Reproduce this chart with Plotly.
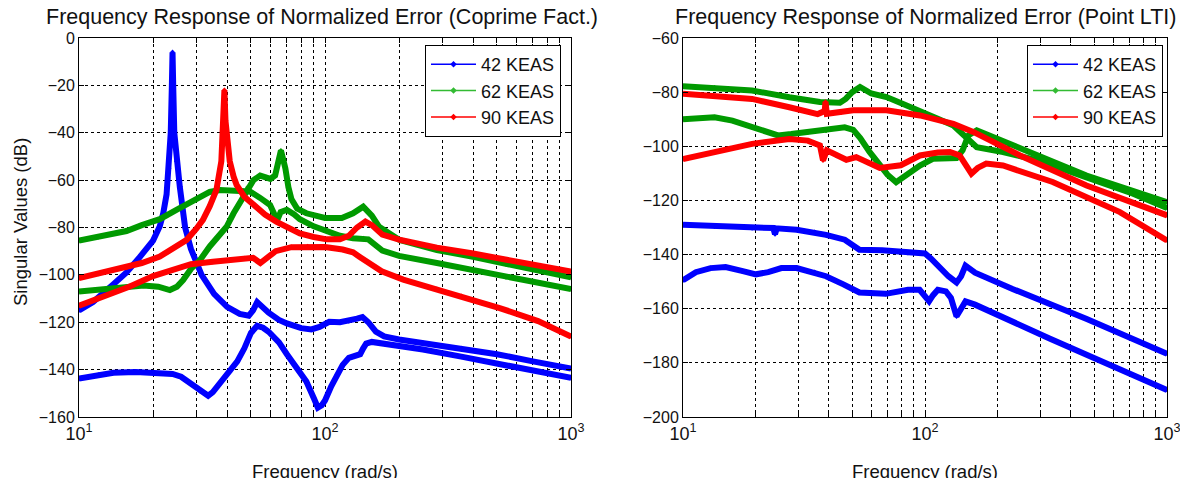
import plotly.graph_objects as go

# ---- Coprime factorization: frequency (rad/s) and singular values (dB)
cf_w_42a = [10, 11.4, 13.8, 15.6, 17.5, 18.9, 20, 21.3, 22, 22.7, 23.2, 23.6, 23.85, 24.0,
            24.15, 24.4, 24.9, 25.7, 27, 28.5, 31.5, 35.4, 40, 45, 49, 51, 53, 55, 59, 65,
            70, 80, 88, 95, 104, 115, 125, 135, 142, 150, 161, 174, 200, 250, 358, 500,
            700, 1000]
cf_db_42a = [-115, -111.5, -104, -99, -93, -89, -85.5, -79.5, -74, -66, -55, -40, -20, -6,
             -20, -40, -52, -63, -80, -89, -100, -108, -113.5, -116.5, -117.2, -115,
             -111.5, -113, -116, -119, -120.5, -122.5, -123, -122, -119.8, -120, -119.5,
             -118.5, -117.8, -120, -124, -126, -127.3, -128.7, -131, -133.5, -136.5, -139.5]

cf_w_42b = [10, 12, 13.8, 17, 20, 24, 26, 28.5, 31, 33.5, 35, 38, 41, 44, 47, 50, 53, 56,
            59, 65, 70, 77, 84, 90, 93.5, 97, 100, 106, 112, 118, 125, 135, 139, 143, 147,
            155, 174, 250, 358, 500, 700, 1000]
cf_db_42b = [-143.8, -142.2, -141.3, -141, -141.1, -141.8, -143, -146, -149, -151, -149.5,
             -145, -141, -136.5, -131, -124.5, -121.5, -122.3, -124, -128.5, -133.5, -139,
             -145, -152, -156, -155, -153, -147, -142, -138, -135, -134, -133.5, -131, -129,
             -128.3, -129, -131.5, -134.5, -137.5, -140.5, -143.5]

cf_w_62a = [10, 12, 15.6, 18, 21.3, 25, 29, 34, 37.4, 45, 49.5, 54.5, 59.8, 62, 63.6, 66,
            69.9, 75, 79, 90, 101.7, 115, 130, 143, 150, 171, 200, 285, 395, 544, 750, 1000]
cf_db_62a = [-85.5, -84, -81.5, -79, -76.5, -72.5, -69, -65, -64.2, -64.2, -64.8, -67.5,
             -70.5, -74, -77.5, -73.5, -72.5, -74.5, -76.5, -79.5, -81.8, -83.5, -84.5,
             -84.6, -85, -89.7, -92, -95, -98, -101, -103.5, -106]

cf_w_62b = [10, 13.8, 18.3, 21, 23.4, 25, 26.5, 28.5, 31, 34, 36.5, 39.8, 42.5, 45.8, 48.5,
            51.2, 54.5, 58, 60, 62.7, 64.5, 66.2, 67.5, 69, 71, 73, 77, 84, 100, 117, 130,
            143, 155, 166, 201, 285, 395, 544, 750, 1000]
cf_db_62b = [-107, -105.5, -104.5, -105, -106.4, -105, -102.2, -97.5, -93.8, -88, -84,
             -79.7, -74, -68.4, -63, -60, -58.1, -58.8, -59.5, -58, -53, -47.5, -51, -55,
             -63, -68, -72, -74, -76, -76, -74, -71.2, -75, -79.7, -85.3, -89.5, -92.3,
             -95.5, -98.5, -101]

cf_w_90a = [10, 12, 15.6, 18, 21.3, 24, 27.4, 30, 31.9, 34, 36.2, 37.9, 38.6, 39.0, 39.4,
            40, 41, 42.5, 43.7, 47, 51.2, 57, 63.6, 70, 79, 90, 101.7, 115, 125, 135, 146,
            155, 171, 203, 285, 395, 544, 750, 1000]
cf_db_90a = [-101.4, -99.5, -97, -95, -92.3, -89, -85.2, -80.5, -76.8, -71, -64.1, -52,
             -38, -22, -35, -45, -52, -58.5, -62, -67, -70.5, -74.5, -77.6, -80, -82.5, -84,
             -85, -85, -83.5, -80, -77.5, -79, -83, -85.3, -88.5, -90.9, -93.5, -96, -98.6]

cf_w_90b = [10, 13.8, 16, 20, 24, 28.5, 35, 41, 47, 51, 54.6, 58, 63, 73, 85, 100, 118,
            130, 138, 155, 170, 208, 285, 358, 513, 735, 1000]
cf_db_90b = [-113, -107.5, -105, -100.5, -98, -95.5, -94.5, -93.8, -93, -92.8, -95, -93,
             -90, -88.3, -88, -88.2, -89.3, -90.5, -92.3, -96, -98.5, -102, -106, -109,
             -114, -119.5, -126]

# ---- Point LTI
lti_w_42a = [10, 13.5, 19.3, 23.6, 24, 24.4, 29.5, 35, 39, 46.6, 50, 53.6, 66.5, 85, 100,
             106, 113, 125, 135, 141, 147, 161, 230, 466, 1000]
lti_db_42a = [-129, -129.6, -130.2, -130.2, -132.5, -130.3, -130.8, -131.7, -132.7, -134.5,
              -136.5, -138.2, -138.4, -139.4, -139.6, -141.5, -144.2, -148, -150.3, -148,
              -144.1, -146.7, -152.7, -163.8, -176.6]

lti_w_42b = [10, 11.3, 13, 15, 17.5, 20, 22.5, 25.5, 29.5, 35, 39, 46, 53.6, 68.8, 85, 95,
             100, 104, 108, 113, 122, 128, 135, 141, 147, 161, 327, 1000]
lti_db_42b = [-149.5, -146.5, -145, -144.6, -146, -147.3, -146.5, -145, -145, -146.5, -148,
              -151, -154, -154.5, -153, -153, -155, -157.2, -155, -153, -153.6, -156,
              -162.8, -160, -157.3, -158.5, -171, -190]

lti_w_62a = [10, 13.5, 19.3, 27.5, 36.8, 44.5, 47, 50, 53.9, 60, 69.3, 79.4, 95.3, 113,
             131, 148.7, 163.6, 210, 300, 465, 700, 1000]
lti_db_62a = [-77.8, -78.3, -79.4, -81.9, -83.6, -83.9, -82.5, -80, -78.1, -80.5, -81.8,
              -84, -87.3, -89.8, -92.3, -97.2, -100.3, -102.1, -105.5, -111.5, -117, -122.8]

lti_w_62b = [10, 13.5, 16, 19.3, 24.7, 28, 32.8, 39, 46.6, 50.5, 54, 59, 64, 70, 76, 85,
             95.3, 107.8, 135, 143, 151, 163.6, 247, 465, 1000]
lti_db_62b = [-90, -89.3, -90.5, -92.9, -96, -95.5, -94.8, -94.2, -93, -93.9, -97, -102.1,
              -106.5, -110.5, -113.3, -110, -107.1, -104.6, -104.3, -101.5, -96, -94.1,
              -100.9, -110.8, -120.6]

lti_w_90a = [10, 19.3, 27.5, 36, 38.5, 38.8, 39.3, 45, 50.5, 69.3, 95.3, 131, 158.3, 247,
             465, 1000]
lti_db_90a = [-80.6, -82.5, -85.6, -88.1, -87, -83.6, -88, -87.5, -86.7, -86.7, -88.6,
              -91.7, -94.7, -103.4, -114.5, -125.5]

lti_w_90b = [10, 13.5, 19.3, 27.5, 32.8, 36.8, 37.9, 39.3, 43, 47.3, 52, 58, 65, 79.4,
             95.3, 113, 127, 139, 148, 155.5, 165, 179, 210, 337, 639, 1000]
lti_db_90b = [-104.7, -102.2, -99.1, -97.3, -97.9, -99.7, -105.2, -101.5, -103.5, -105,
              -104, -106, -108, -107, -103.4, -102.3, -102.1, -103.4, -107, -110.1, -108,
              -106.4, -107.1, -113.2, -124.3, -134.8]

series_names = ["42 KEAS", "62 KEAS", "90 KEAS"]
colors = ["#0000ff", "#009a00", "#ff0000"]
legend_colors = ["#0000ff", "#33bb33", "#ff0000"]

left_curves = [
    [(cf_w_42a, cf_db_42a), (cf_w_42b, cf_db_42b)],
    [(cf_w_62a, cf_db_62a), (cf_w_62b, cf_db_62b)],
    [(cf_w_90a, cf_db_90a), (cf_w_90b, cf_db_90b)],
]
right_curves = [
    [(lti_w_42a, lti_db_42a), (lti_w_42b, lti_db_42b)],
    [(lti_w_62a, lti_db_62a), (lti_w_62b, lti_db_62b)],
    [(lti_w_90a, lti_db_90a), (lti_w_90b, lti_db_90b)],
]

# the html page has an 8px body margin, so the figure is laid out 8px smaller
OFF = 8
W, H = 1188 - OFF, 478 - OFF
FONT = "Arial, Liberation Sans, sans-serif"


def px_x(p):
    # reference pixel -> paper fraction
    return (p - OFF) / W


def px_y(p):
    return 1 - (p - OFF) / H


fig = go.Figure()

for axis_id, curves, legend_id in [("", left_curves, "legend"), ("2", right_curves, "legend2")]:
    for name, color, lcolor, pair in zip(series_names, colors, legend_colors, curves):
        for w, db in pair:
            fig.add_trace(go.Scatter(
                x=w, y=db, mode="lines+markers",
                line=dict(color=color, width=6),
                marker=dict(color=color, size=4, symbol="diamond"),
                showlegend=False, hoverinfo="skip",
                xaxis="x" + axis_id, yaxis="y" + axis_id,
            ))
        # legend entry only
        fig.add_trace(go.Scatter(
            x=[None], y=[None], mode="lines+markers", name=name,
            line=dict(color=lcolor, width=1.5),
            marker=dict(color=lcolor, size=5, symbol="diamond"),
            legend=legend_id, xaxis="x" + axis_id, yaxis="y" + axis_id,
        ))

# log tick positions (major + minor grid)
xticks = [m * 10 ** e for e in (1, 2) for m in range(1, 10)] + [1000]
xtext = ["10<sup>1</sup>" if v == 10 else "10<sup>2</sup>" if v == 100
         else "10<sup>3</sup>" if v == 1000 else "" for v in xticks]

common_x = dict(
    type="log", range=[1, 3], tickvals=xticks, ticktext=xtext,
    showgrid=True, gridcolor="black", gridwidth=1, griddash="3px,3px",
    showline=True, linecolor="black", linewidth=1, mirror="allticks",
    ticks="inside", ticklen=5, tickcolor="black",
    tickfont=dict(family=FONT, size=18, color="#111"), automargin=False,
)
common_y = dict(
    dtick=20, showgrid=True, gridcolor="black", gridwidth=1, griddash="3px,3px",
    showline=True, linecolor="black", linewidth=1, mirror="allticks",
    ticks="inside", ticklen=5, tickcolor="black", zeroline=False,
    tickfont=dict(family=FONT, size=16, color="#111"), automargin=False,
)

legend_style = dict(yanchor="top", xanchor="right", bgcolor="white",
                    bordercolor="black", borderwidth=1, tracegroupgap=0,
                    itemwidth=45,
                    font=dict(family=FONT, size=18, color="#111"))

y_dom = [px_y(417), px_y(38)]
fig.update_layout(
    width=W, height=H,
    margin=dict(l=0, r=0, t=0, b=0),
    paper_bgcolor="white", plot_bgcolor="white",
    xaxis=dict(common_x, domain=[px_x(79), px_x(571)], anchor="y"),
    yaxis=dict(common_y, domain=y_dom, range=[-160, 0], anchor="x"),
    xaxis2=dict(common_x, domain=[px_x(683), px_x(1167)], anchor="y2"),
    yaxis2=dict(common_y, domain=y_dom, range=[-200, -60], anchor="x2"),
    legend=dict(legend_style, x=px_x(561), y=px_y(45)),
    legend2=dict(legend_style, x=px_x(1163), y=px_y(45)),
    showlegend=True,
)

title_font = dict(family=FONT, size=21.5, color="#111")
label_font = dict(family=FONT, size=18.5, color="#111")
fig.add_annotation(text="Frequency Response of Normalized Error (Coprime Fact.)",
                   x=px_x(322), y=px_y(17), xanchor="center", yanchor="middle")
fig.add_annotation(text="Frequency Response of Normalized Error (Point LTI)",
                   x=px_x(925), y=px_y(17), xanchor="center", yanchor="middle")
fig.add_annotation(text="Singular Values (dB)", textangle=-90,
                   x=px_x(20), y=px_y(222), xanchor="center", yanchor="middle",
                   font=label_font)
for cx in (325, 925):
    fig.add_annotation(text="Frequency (rad/s)", x=px_x(cx), y=px_y(459),
                       xanchor="center", yanchor="top", font=label_font)
fig.update_annotations(xref="paper", yref="paper", showarrow=False)
for a in fig.layout.annotations[:2]:
    a.font = title_font

fig.write_html("out.html")
